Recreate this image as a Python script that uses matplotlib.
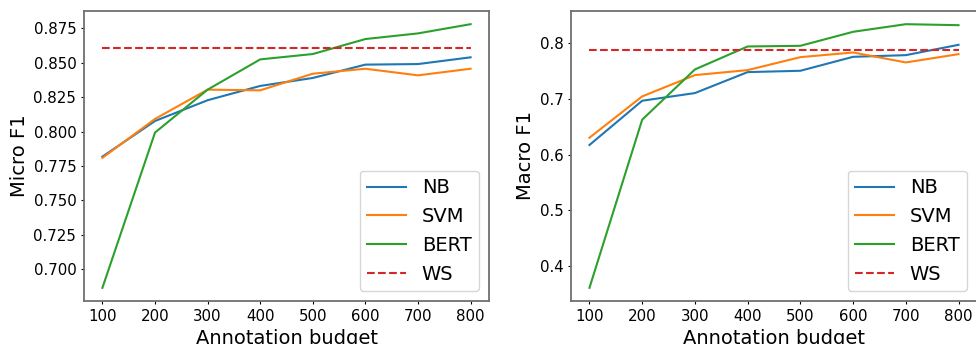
import matplotlib
matplotlib.use("Agg")
import matplotlib.pyplot as plt

budgets = [100, 200, 300, 400, 500, 600, 700, 800]

micro_nb = [0.7818, 0.8077, 0.8228, 0.8332, 0.8390, 0.8487, 0.8491, 0.8540]
micro_svm = [0.7809, 0.8092, 0.8305, 0.8300, 0.8421, 0.8457, 0.8409, 0.8457]
micro_bert = [0.6864, 0.7993, 0.8305, 0.8525, 0.8564, 0.8673, 0.8714, 0.8781]
micro_ws = 0.8607

macro_nb = [0.6174, 0.6970, 0.7108, 0.7485, 0.7509, 0.7760, 0.7790, 0.7976]
macro_svm = [0.6305, 0.7048, 0.7431, 0.7521, 0.7754, 0.7838, 0.7659, 0.7808]
macro_bert = [0.3605, 0.6629, 0.7533, 0.7946, 0.7958, 0.8210, 0.8347, 0.8329]
macro_ws = 0.7874

W, H = 976, 344
fig = plt.figure(figsize=(W / 100, H / 100), dpi=100)

ax1 = fig.add_axes([84 / W, 1 - 301 / H, 405 / W, 290 / H])
ax2 = fig.add_axes([571 / W, 1 - 301 / H, 406 / W, 290 / H])

def draw(ax, nb, svm, bert, ws, ylabel):
    ax.plot(budgets, nb, color="#1f77b4", lw=1.5, label="NB")
    ax.plot(budgets, svm, color="#ff7f0e", lw=1.5, label="SVM")
    ax.plot(budgets, bert, color="#2ca02c", lw=1.5, label="BERT")
    ax.plot(budgets, [ws] * len(budgets), color="#d62728", ls="--", lw=1.5, label="WS")
    ax.set_xticks(budgets)
    ax.tick_params(labelsize=10.8, length=2.5, pad=3)
    ax.set_xlabel("Annotation budget", fontsize=14, labelpad=4)
    ax.set_ylabel(ylabel, fontsize=14, labelpad=3)
    ax.legend(loc="lower right", fontsize=14)
    for s in ax.spines.values():
        s.set_color("#707070")
        s.set_linewidth(1.3)

draw(ax1, micro_nb, micro_svm, micro_bert, micro_ws, "Micro F1")
draw(ax2, macro_nb, macro_svm, macro_bert, macro_ws, "Macro F1")
ax2.set_yticks([0.4, 0.5, 0.6, 0.7, 0.8])

fig.savefig("out.png", dpi=100)
